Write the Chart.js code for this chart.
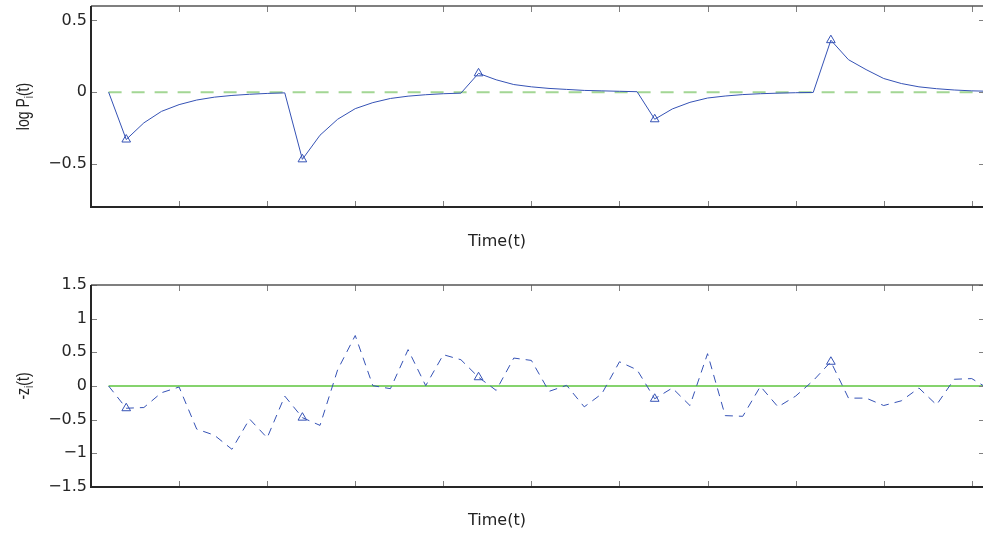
<!DOCTYPE html>
<html>
<head>
<meta charset="utf-8">
<script src="https://cdn.jsdelivr.net/npm/chart.js@4/dist/chart.umd.min.js"></script>
<style>
  html, body { margin: 0; padding: 0; background: #fff; overflow: hidden; }
  canvas { position: absolute; left: 0; top: 0; }
</style>
</head>
<body>
<canvas id="topChart" width="990" height="534"></canvas>
<canvas id="bottomChart" width="990" height="534"></canvas>
<script>
'use strict'
{
  // time steps
  const times = [1, 2, 3, 4, 5, 6, 7, 8, 9, 10, 11, 12, 13, 14, 15, 16, 17, 18, 19, 20,
    21, 22, 23, 24, 25, 26, 27, 28, 29, 30, 31, 32, 33, 34, 35, 36, 37, 38, 39, 40,
    41, 42, 43, 44, 45, 46, 47, 48, 49, 50, 51];
  // log P_i(t)
  const logP = [0, -0.33, -0.214, -0.134, -0.087, -0.055, -0.035, -0.023, -0.015, -0.009,
    -0.005, -0.468, -0.30, -0.189, -0.115, -0.073, -0.044, -0.028, -0.018, -0.011,
    -0.007, 0.131, 0.086, 0.053, 0.037, 0.026, 0.019, 0.012, 0.009, 0.006,
    0.003, -0.189, -0.117, -0.071, -0.041, -0.027, -0.017, -0.011, -0.007, -0.004,
    -0.002, 0.362, 0.226, 0.157, 0.095, 0.06, 0.037, 0.024, 0.015, 0.009, 0.006];
  // -z_i(t)
  const negZ = [0, -0.33, -0.32, -0.10, -0.015, -0.64, -0.73, -0.94, -0.49, -0.77,
    -0.15, -0.47, -0.585, 0.24, 0.75, 0.005, -0.04, 0.54, 0.005, 0.465,
    0.39, 0.13, -0.065, 0.415, 0.38, -0.08, 0.01, -0.31, -0.115, 0.36,
    0.24, -0.19, -0.03, -0.29, 0.48, -0.44, -0.45, -0.005, -0.31, -0.15,
    0.08, 0.36, -0.18, -0.18, -0.29, -0.22, -0.03, -0.28, 0.10, 0.11, -0.05];
  const zeroLine = times.map(() => 0);
  // times with a triangle marker
  const markerTimes = [2, 12, 22, 32, 42];

  const xTicks = [5, 10, 15, 20, 25, 30, 35, 40, 45, 50];
  const yTicksTop = [-0.5, 0, 0.5];
  const yTicksBottom = [-1.5, -1, -0.5, 0, 0.5, 1, 1.5];

  const blue = '#3552b5';
  const font = '"DejaVu Sans", sans-serif';
  const titleFont = '"Liberation Sans", Arial, sans-serif';

  const pts = (ys) => times.map((t, i) => ({x: t, y: ys[i]}));
  const markerRadius = (c) => markerTimes.includes(times[c.dataIndex]) ? 5 : 0;
  const fmt = (v) => v < 0 ? '\u2212' + Math.abs(v) : String(v);

  // matlab-like box, inward ticks and titles
  const matlabAxes = {
    id: 'matlabAxes',
    afterDraw(chart, args, opts) {
      const {ctx, chartArea: a} = chart;
      const x = chart.scales.x, y = chart.scales.y;
      ctx.save();
      ctx.strokeStyle = '#808080';
      ctx.lineWidth = 1;
      ctx.beginPath();
      x.ticks.forEach(t => {
        const px = Math.round(x.getPixelForValue(t.value)) + 0.5;
        ctx.moveTo(px, a.bottom); ctx.lineTo(px, a.bottom - 6);
        ctx.moveTo(px, a.top); ctx.lineTo(px, a.top + 6);
      });
      y.ticks.forEach(t => {
        const py = Math.round(y.getPixelForValue(t.value)) + 0.5;
        ctx.moveTo(a.left, py); ctx.lineTo(a.left + 6, py);
        ctx.moveTo(a.right, py); ctx.lineTo(a.right - 6, py);
      });
      ctx.stroke();

      ctx.strokeStyle = '#555';
      ctx.lineWidth = 1.5;
      ctx.beginPath();
      ctx.moveTo(a.left, a.top); ctx.lineTo(a.right, a.top);
      ctx.moveTo(a.right, a.top); ctx.lineTo(a.right, a.bottom);
      ctx.stroke();
      ctx.strokeStyle = '#262626';
      ctx.lineWidth = 2;
      ctx.beginPath();
      ctx.moveTo(a.left, a.top); ctx.lineTo(a.left, a.bottom); ctx.lineTo(a.right, a.bottom);
      ctx.stroke();

      ctx.fillStyle = '#222';
      ctx.font = '16px ' + font;
      ctx.textAlign = 'center';
      ctx.textBaseline = 'middle';
      ctx.fillText(opts.xTitle, 497, opts.xTitleY);

      // y title with subscript
      const [main1, sub, main2] = opts.yTitle;
      const big = '14px ' + titleFont, small = '10px ' + titleFont;
      ctx.font = big;
      const w1 = ctx.measureText(main1).width, w3 = ctx.measureText(main2).width;
      ctx.font = small;
      const w2 = ctx.measureText(sub).width;
      const x0 = -(w1 + w2 + w3) / 2;
      ctx.translate(opts.yTitleX, (a.top + a.bottom) / 2);
      ctx.rotate(-Math.PI / 2);
      ctx.scale(1, 1.3);
      ctx.textAlign = 'left';
      ctx.textBaseline = 'alphabetic';
      ctx.font = big;
      ctx.fillText(main1, x0, 0);
      ctx.font = small;
      ctx.fillText(sub, x0 + w1, 3);
      ctx.font = big;
      ctx.fillText(main2, x0 + w1 + w2, 0);
      ctx.restore();
    }
  };

  const makeOptions = (top, xHeight, yMin, yMax, yTicks, plug) => ({
    responsive: false,
    animation: false,
    devicePixelRatio: 1,
    events: [],
    layout: { padding: { top: top, left: 0, right: 5, bottom: 0 } },
    plugins: {
      legend: { display: false },
      tooltip: { enabled: false },
      matlabAxes: plug,
    },
    scales: {
      x: {
        type: 'linear',
        min: 0,
        max: 50.75,
        grid: { display: false, drawTicks: false },
        border: { display: false },
        ticks: { display: false },
        afterBuildTicks: (s) => { s.ticks = xTicks.map(v => ({value: v})); },
        afterFit: (s) => { s.height = xHeight; s.paddingLeft = 0; s.paddingRight = 0; },
      },
      y: {
        min: yMin,
        max: yMax,
        grid: { display: false, drawTicks: false },
        border: { display: false },
        ticks: {
          padding: 4,
          color: '#262626',
          font: { family: font, size: 16 },
          callback: (v) => fmt(v),
        },
        afterBuildTicks: (s) => { s.ticks = yTicks.map(v => ({value: v})); },
        afterFit: (s) => { s.width = 91; s.paddingTop = 0; s.paddingBottom = 0; },
      },
    },
  });

  new Chart(document.getElementById('topChart').getContext('2d'), {
    type: 'line',
    data: {
      datasets: [{
        data: pts(logP),
        borderColor: blue,
        borderWidth: 1,
        pointStyle: 'triangle',
        pointRadius: markerRadius,
        pointBorderColor: blue,
        pointBorderWidth: 1,
        pointBackgroundColor: 'rgba(0,0,0,0)',
        tension: 0,
      }, {
        data: pts(zeroLine),
        borderColor: '#a3d694',
        borderWidth: 2,
        borderDash: [13, 10],
        pointRadius: 0,
      }],
    },
    options: makeOptions(6, 534 - 207, -0.8, 0.6, yTicksTop,
      { xTitle: 'Time(t)', xTitleY: 242, yTitle: ['log P', 'i', '(t)'], yTitleX: 29 }),
    plugins: [matlabAxes],
  });

  new Chart(document.getElementById('bottomChart').getContext('2d'), {
    type: 'line',
    data: {
      datasets: [{
        data: pts(negZ),
        borderColor: blue,
        borderWidth: 1,
        borderDash: [8, 6],
        pointStyle: 'triangle',
        pointRadius: markerRadius,
        pointBorderColor: blue,
        pointBorderWidth: 1,
        pointBackgroundColor: 'rgba(0,0,0,0)',
        tension: 0,
      }, {
        data: pts(zeroLine),
        borderColor: '#5cc43c',
        borderWidth: 1.5,
        pointRadius: 0,
      }],
    },
    options: makeOptions(285, 534 - 487, -1.5, 1.5, yTicksBottom,
      { xTitle: 'Time(t)', xTitleY: 521, yTitle: ['-z', 'i', '(t)'], yTitleX: 29 }),
    plugins: [matlabAxes],
  });
}
</script>
</body>
</html>
